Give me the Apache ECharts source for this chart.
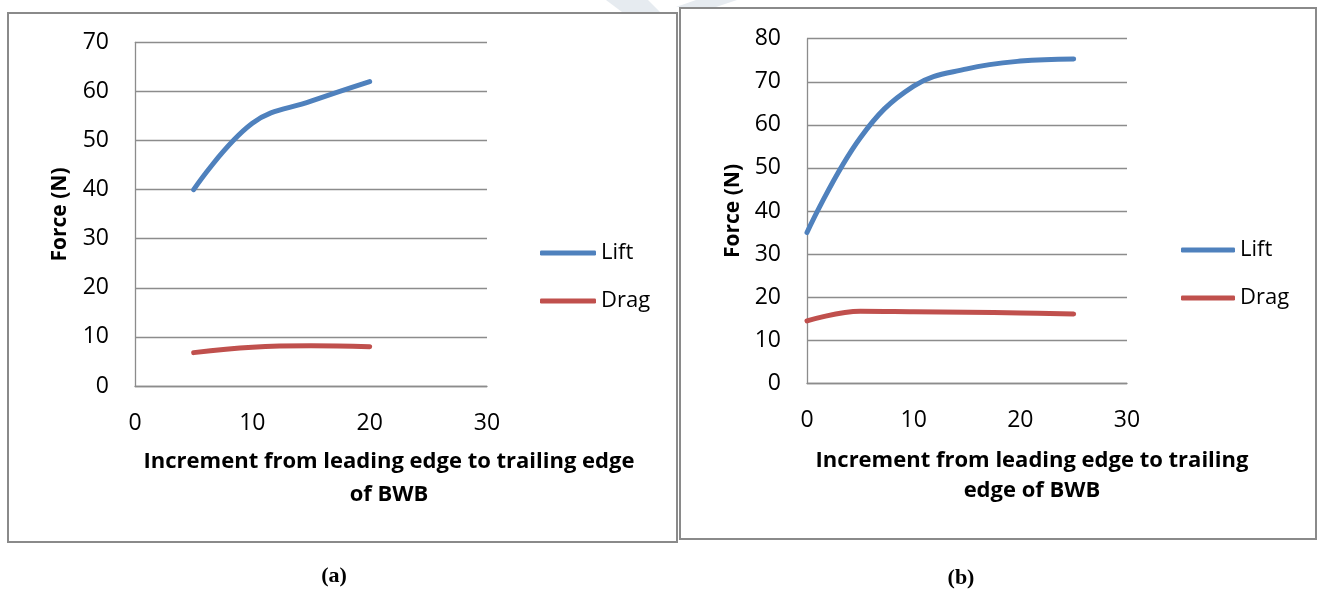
<!DOCTYPE html>
<html>
<head>
<meta charset="utf-8">
<script src="https://cdn.jsdelivr.net/npm/echarts@6/dist/echarts.min.js"></script>
<style>
  html, body { margin: 0; padding: 0; background: #fff; }
  #chart { width: 1317px; height: 591px; }
</style>
</head>
<body>
<div id="chart"></div>
<script>
// Panel (a): lift and drag along the BWB chord
const incrementA = [5, 10, 15, 20];
const liftA = [40, 53.5, 58, 62];
const dragA = [6.8, 7.9, 8.2, 8.0];

// Panel (b): lift and drag along the BWB chord
const incrementB = [0, 5, 10, 15, 20, 25];
const liftB = [35, 57, 69, 73, 74.8, 75.3];
const dragB = [14.5, 16.7, 16.6, 16.5, 16.3, 16.1];

const yMaxA = 70;
const yMaxB = 80;
const xMax = 30;
const tickStep = 10;

const seriesNames = ['Lift', 'Drag'];
const xTitleA = ['Increment from leading edge to trailing edge', 'of BWB'];
const xTitleB = ['Increment from leading edge to trailing', 'edge of BWB'];
const yTitle = 'Force (N)';
const captions = ['(a)', '(b)'];

const FONT = 'Open Sans';
const LIFT_COLOR = '#4F81BD';
const DRAG_COLOR = '#C0504D';
const GRID_COLOR = '#8c8c8c';
const FRAME_COLOR = '#8a8a8a';

const pairs = (xs, ys) => xs.map((x, i) => [x, ys[i]]);

function xAxisFor(gridIndex) {
  return {
    type: 'value', gridIndex, min: 0, max: xMax, interval: tickStep,
    axisLine: { show: true, lineStyle: { color: GRID_COLOR, width: 1.3 } },
    axisTick: { show: false },
    splitLine: { show: false },
    axisLabel: { fontFamily: FONT, fontSize: 23, color: '#000', margin: 26 }
  };
}
function yAxisFor(gridIndex, max) {
  return {
    type: 'value', gridIndex, min: 0, max, interval: tickStep,
    axisLine: { show: true, lineStyle: { color: GRID_COLOR, width: 1.3 } },
    axisTick: { show: false },
    splitLine: { show: true, lineStyle: { color: GRID_COLOR, width: 1.3 } },
    axisLabel: { fontFamily: FONT, fontSize: 23, color: '#000', margin: 26 }
  };
}
function lineSeries(name, color, xs, ys, idx) {
  return {
    name, type: 'line', xAxisIndex: idx, yAxisIndex: idx,
    data: pairs(xs, ys), smooth: 0.4, showSymbol: false, symbol: 'none',
    lineStyle: { color, width: 5, cap: 'round', join: 'round' },
    itemStyle: { color },
    emphasis: { disabled: true }, animation: false
  };
}
function legendAt(left, top, itemWidth) {
  return {
    orient: 'vertical', left, top, padding: 0, data: seriesNames,
    icon: 'roundRect', itemWidth, itemHeight: 5, itemGap: 26,
    selectedMode: false,
    textStyle: { fontFamily: FONT, fontSize: 22, color: '#000', lineHeight: 22 }
  };
}
function text(str, x, y, opts) {
  return {
    type: 'text', x, y, z: 10,
    rotation: (opts && opts.rotation) || 0,
    style: Object.assign({
      text: str, fill: '#000', align: 'center', verticalAlign: 'middle',
      fontFamily: FONT, fontSize: 22, fontWeight: 'bold'
    }, (opts && opts.style) || {})
  };
}

const chart = echarts.init(document.getElementById('chart'), null, { renderer: 'canvas' });
chart.setOption({
  animation: false,
  backgroundColor: '#fff',
  grid: [
    { left: 135, top: 42.3, width: 352, height: 343.7 },
    { left: 807, top: 38.7, width: 320, height: 344.6 }
  ],
  xAxis: [xAxisFor(0), xAxisFor(1)],
  yAxis: [yAxisFor(0, yMaxA), yAxisFor(1, yMaxB)],
  legend: [legendAt(540, 242, 56), legendAt(1181, 239, 54)],
  series: [
    lineSeries(seriesNames[0], LIFT_COLOR, incrementA, liftA, 0),
    lineSeries(seriesNames[1], DRAG_COLOR, incrementA, dragA, 0),
    lineSeries(seriesNames[0], LIFT_COLOR, incrementB, liftB, 1),
    lineSeries(seriesNames[1], DRAG_COLOR, incrementB, dragB, 1)
  ],
  graphic: [
    // faint watermark stripes in the gap above the frames
    { type: 'polygon', z: -5, shape: { points: [[606, 0], [648, 0], [660, 12], [622, 12]] }, style: { fill: '#e6ebf0' } },
    { type: 'polygon', z: -5, shape: { points: [[696, 0], [737, 0], [716, 7], [676, 7]] }, style: { fill: '#e6ebf0' } },
    // chart frames
    { type: 'rect', z: 1, shape: { x: 8, y: 13, width: 669, height: 529 }, style: { fill: 'none', stroke: FRAME_COLOR, lineWidth: 2 } },
    { type: 'rect', z: 1, shape: { x: 680, y: 8, width: 636, height: 531 }, style: { fill: 'none', stroke: FRAME_COLOR, lineWidth: 2 } },
    // axis titles
    text(yTitle, 60, 214.5, { rotation: Math.PI / 2, style: { fontSize: 21 } }),
    text(yTitle, 733, 211, { rotation: Math.PI / 2, style: { fontSize: 21 } }),
    text(xTitleA[0], 389, 462),
    text(xTitleA[1], 389, 495),
    text(xTitleB[0], 1032, 461),
    text(xTitleB[1], 1032, 491),
    // panel captions
    text(captions[0], 334, 576, { style: { fontFamily: 'Liberation Serif', fontSize: 22 } }),
    text(captions[1], 961, 578, { style: { fontFamily: 'Liberation Serif', fontSize: 22 } })
  ]
});
</script>
</body>
</html>
